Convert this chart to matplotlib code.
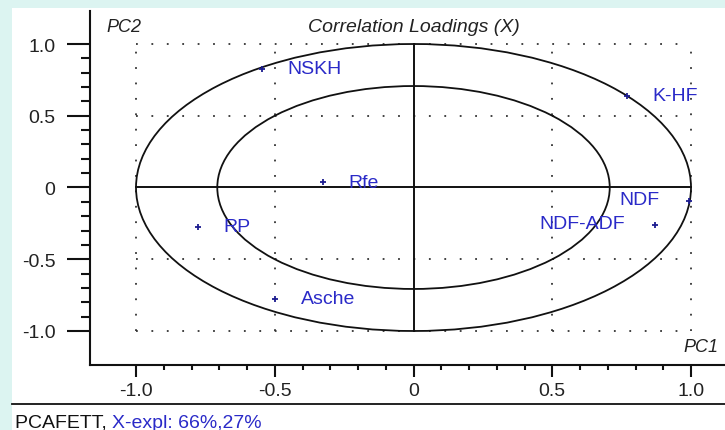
import numpy as np
import matplotlib
matplotlib.use("Agg")
import matplotlib.pyplot as plt
from matplotlib.patches import Rectangle, Ellipse
from matplotlib.lines import Line2D
from matplotlib.ticker import FixedLocator

plt.rcParams['font.family'] = ['Liberation Sans', 'DejaVu Sans']
plt.rcParams['lines.scale_dashes'] = False

# ---- data ----
variables = ["NSKH", "K-HF", "Rfe", "NDF", "NDF-ADF", "RP", "Asche"]
pc1 = [-0.546, 0.769, -0.326, 0.993, 0.870, -0.777, -0.499]
pc2 = [0.826, 0.638, 0.038, -0.094, -0.261, -0.275, -0.777]
label_side = ["right", "right", "right", "left", "left", "right", "right"]
x_ticks = [-1.0, -0.5, 0.0, 0.5, 1.0]
x_ticklabels = ["-1.0", "-0.5", "0", "0.5", "1.0"]
y_ticks = [-1.0, -0.5, 0.0, 0.5, 1.0]
y_ticklabels = ["-1.0", "-0.5", "0", "0.5", "1.0"]
circle_radii = [1.0, np.sqrt(0.5)]
title = "Correlation Loadings (X)"
footer_black = "PCAFETT, "
footer_blue = "X-expl: 66%,27%"

W, H = 725, 431
CYAN = "#dcf4f1"
BLUE_TXT = "#2a2ac8"
BLUE_MK = "#1c1c90"
FS = 14

fig = plt.figure(figsize=(W / 100, H / 100), dpi=100, facecolor=CYAN)
fig.patches.append(Rectangle((12 / W, 0), 1, 1 - 9 / H, transform=fig.transFigure,
                             facecolor="white", edgecolor="none", zorder=-10))

ax = fig.add_axes([90 / W, 1 - 366 / H, 1 - 90 / W, (366 - 12) / H])
ax.set_facecolor("none")
ax.set_xlim(-1.1658, 1.1225)
ax.set_ylim(-1.237, 1.23)
for s in ["top", "right"]:
    ax.spines[s].set_visible(False)
for s in ["left", "bottom"]:
    ax.spines[s].set_linewidth(1.5)
    ax.spines[s].set_color("#111111")

minor = np.round(np.arange(-1.0, 1.01, 0.1), 2)
ax.xaxis.set_major_locator(FixedLocator(x_ticks))
ax.set_xticklabels(x_ticklabels)
ax.yaxis.set_major_locator(FixedLocator(y_ticks))
ax.set_yticklabels(y_ticklabels)
ax.xaxis.set_minor_locator(FixedLocator(minor))
ax.yaxis.set_minor_locator(FixedLocator(minor))
ax.tick_params(axis="y", which="major", length=16.5, width=1.5, pad=8.5,
               labelsize=FS, color="#111111", labelcolor="#222222")
ax.tick_params(axis="y", which="minor", length=6.5, width=1.5, color="#111111")
ax.tick_params(axis="x", which="major", length=8.5, width=1.5, pad=4,
               labelsize=FS, color="#111111", labelcolor="#222222")
ax.tick_params(axis="x", which="minor", length=3.6, width=1.5, color="#111111")

# dotted grid
for g in [-1.0, -0.5, 0.5, 1.0]:
    ax.plot([g, g], [-1, 1], ls=(0, (1.3, 9.8)), lw=1.3, color="#333333", zorder=1)
    ax.plot([-1, 1], [g, g], ls=(0, (1.3, 9.8)), lw=1.3, color="#333333", zorder=1)

# crosshair
ax.plot([-1, 1], [0, 0], color="#111111", lw=1.4, zorder=2)
ax.plot([0, 0], [-1, 1], color="#111111", lw=1.4, zorder=2)

# ellipses
for r in circle_radii:
    ax.add_patch(Ellipse((0, 0), 2 * r, 2 * r, fill=False, edgecolor="#111111",
                         lw=1.3, zorder=3))

# points and labels
ax.scatter(pc1, pc2, marker="+", s=18, linewidths=1.3, color=BLUE_MK, zorder=4)
for name, x, y, side in zip(variables, pc1, pc2, label_side):
    if side == "right":
        ax.annotate(name, (x, y), xytext=(18.5, 0), textcoords="offset points",
                    ha="left", va="center", color=BLUE_TXT, fontsize=FS, zorder=5)
    else:
        ax.annotate(name, (x, y), xytext=(-21.5, 1), textcoords="offset points",
                    ha="right", va="center", color=BLUE_TXT, fontsize=FS, zorder=5)

# axis names and title
fig.text(106 / W, 1 - 27 / H, "PC2", style="italic", fontsize=FS - 1, ha="left",
         va="center", color="#222222")
fig.text(414 / W, 1 - 27 / H, title, style="italic", fontsize=FS, ha="center",
         va="center", color="#222222")
fig.text(718 / W, 1 - 348 / H, "PC1", style="italic", fontsize=FS - 1, ha="right",
         va="center", color="#222222")

# bottom separator line and footer
fig.add_artist(Line2D([12 / W, 1], [1 - 405 / H] * 2, color="#111111", lw=1.3,
                      transform=fig.transFigure))
t1 = fig.text(15 / W, 1 - 428 / H, footer_black, fontsize=FS, ha="left",
              va="baseline", color="#111111")
ax.annotate(footer_blue, xy=(1, 0), xycoords=t1, ha="left", va="bottom",
            fontsize=FS, color=BLUE_TXT, annotation_clip=False)

fig.savefig("out.png", dpi=100, facecolor=CYAN)
